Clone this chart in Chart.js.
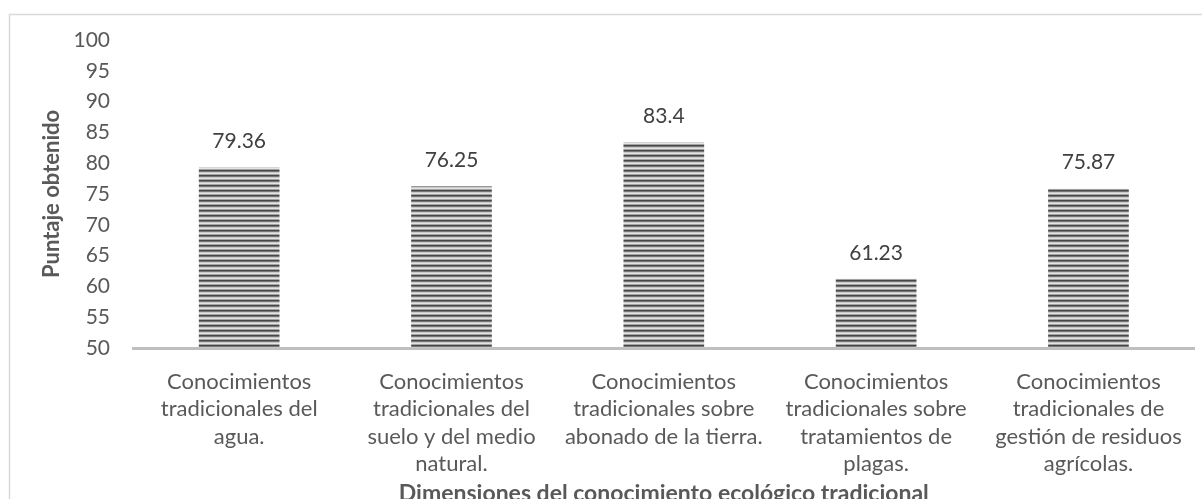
<!DOCTYPE html>
<html>
<head>
<meta charset="utf-8">
<script src="https://cdn.jsdelivr.net/npm/chart.js@4.4.1/dist/chart.umd.min.js"></script>
<style>
  html, body { margin: 0; padding: 0; background: #fff; }
  #wrap { width: 1202px; height: 499px; position: relative; }
</style>
</head>
<body>
<div id="wrap"><canvas id="chart"></canvas></div>
<script>
// values
const categories = [
    ['Conocimientos', 'tradicionales del', 'agua.'],
    ['Conocimientos', 'tradicionales del', 'suelo y del medio', 'natural.'],
    ['Conocimientos', 'tradicionales sobre', 'abonado de la tierra.'],
    ['Conocimientos', 'tradicionales sobre', 'tratamientos de', 'plagas.'],
    ['Conocimientos', 'tradicionales de', 'gestión de residuos', 'agrícolas.']
];
const puntajes = [79.36, 76.25, 83.4, 61.23, 75.87];
const yMin = 50, yMax = 100, yStep = 5;
const yTitle = 'Puntaje obtenido';
const xTitle = 'Dimensiones del conocimiento ecológico tradicional';

const FONT = 'Lato';
const GREY = '#595959';

// striped fill like the excel pattern
function stripePattern() {
    const c = document.createElement('canvas');
    c.width = 4; c.height = 5;
    const g = c.getContext('2d');
    const rows = ['#474747', '#767676', '#c8c8c8', '#e4e4e4', '#a4a4a4'];
    rows.forEach((col, i) => { g.fillStyle = col; g.fillRect(0, i, 4, 1); });
    return g.createPattern(c, 'repeat');
}

const extras = {
    id: 'extras',
    beforeDraw(chart) {
        const ctx = chart.ctx;
        ctx.save();
        ctx.strokeStyle = '#d9d9d9';
        ctx.lineWidth = 1.5;
        ctx.beginPath();
        ctx.moveTo(9.5, chart.height + 2);
        ctx.lineTo(9.5, 14.5);
        ctx.lineTo(chart.width + 2, 14.5);
        ctx.stroke();
        ctx.restore();
    },
    afterDatasetsDraw(chart) {
        const ctx = chart.ctx;
        const area = chart.chartArea;
        ctx.save();
        ctx.fillStyle = '#404040';
        ctx.font = '21px ' + FONT;
        ctx.textAlign = 'center';
        ctx.textBaseline = 'middle';
        chart.getDatasetMeta(0).data.forEach((bar, i) => {
            ctx.fillText(String(puntajes[i]), bar.x, bar.y - 26);
        });
        // axis titles
        ctx.fillStyle = GREY;
        ctx.font = 'bold 23px ' + FONT;
        ctx.textBaseline = 'alphabetic';
        ctx.fillText(xTitle, (area.left + area.right) / 2, 501);
        ctx.font = 'bold 22px ' + FONT;
        ctx.textBaseline = 'middle';
        ctx.translate(52, (area.top + area.bottom) / 2);
        ctx.rotate(-Math.PI / 2);
        ctx.fillText(yTitle, 0, 0);
        ctx.restore();
    }
};

const ctx = document.getElementById('chart').getContext('2d');
new Chart(ctx, {
    type: 'bar',
    data: {
        labels: categories,
        datasets: [{
            data: puntajes,
            backgroundColor: stripePattern(),
            borderWidth: 0,
            categoryPercentage: 1,
            barPercentage: 0.38
        }]
    },
    options: {
        responsive: true,
        maintainAspectRatio: false,
        animation: false,
        layout: { padding: { top: 40, right: 3, left: 0, bottom: 0 } },
        plugins: {
            legend: { display: false },
            tooltip: { enabled: false }
        },
        scales: {
            x: {
                grid: { display: false, drawTicks: false },
                border: { display: true, color: '#bfbfbf', width: 3 },
                ticks: {
                    color: GREY,
                    font: { family: FONT, size: 22, lineHeight: 1.25 },
                    padding: 20,
                    maxRotation: 0,
                    autoSkip: false
                },
                afterFit(scale) { scale.height = 151; }
            },
            y: {
                min: yMin,
                max: yMax,
                grid: { display: false, drawTicks: false },
                border: { display: false },
                ticks: {
                    stepSize: yStep,
                    color: GREY,
                    font: { family: FONT, size: 21 },
                    padding: 23
                },
                afterFit(scale) { scale.width = 133; }
            }
        }
    },
    plugins: [extras]
});
</script>
</body>
</html>
